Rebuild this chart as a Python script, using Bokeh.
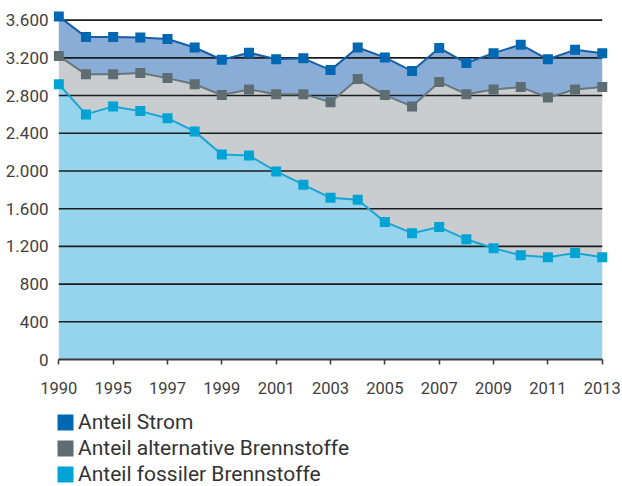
from bokeh.plotting import figure
from bokeh.layouts import column
from bokeh.models import Range1d, FixedTicker, Legend, LegendItem, ColumnDataSource
from bokeh.embed import file_html
from bokeh.resources import INLINE

# ---- data ----
years = ["1990", "1994", "1995", "1996", "1997", "1998", "1999", "2000", "2001", "2002",
         "2003", "2004", "2005", "2006", "2007", "2008", "2009", "2010", "2011", "2012", "2013"]
fossil = [2920, 2600, 2685, 2635, 2560, 2420, 2175, 2165, 1995, 1855,
          1715, 1695, 1460, 1340, 1405, 1275, 1180, 1105, 1085, 1130, 1085]
alternative = [300, 425, 340, 405, 425, 500, 630, 700, 820, 960,
               1015, 1280, 1345, 1345, 1540, 1540, 1685, 1785, 1695, 1735, 1805]
strom = [420, 395, 395, 375, 415, 390, 375, 390, 370, 380,
         340, 335, 400, 375, 360, 330, 385, 450, 405, 420, 360]
series_names = ["Anteil Strom", "Anteil alternative Brennstoffe", "Anteil fossiler Brennstoffe"]
xtick_labels = ["1990", "1995", "1997", "1999", "2001", "2003", "2005", "2007", "2009", "2011", "2013"]
yticks = [0, 400, 800, 1200, 1600, 2000, 2400, 2800, 3200, 3600]
ytick_labels = ["0", "400", "800", "1.200", "1.600", "2.000", "2.400", "2.800", "3.200", "3.600"]

# ---- derived ----
n = len(years)
x = list(range(n))
fos_top = list(fossil)
alt_top = [f + a for f, a in zip(fossil, alternative)]
str_top = [a + s for a, s in zip(alt_top, strom)]
src = ColumnDataSource(dict(x=x, zero=[0] * n, fos=fos_top, alt=alt_top, top=str_top))

C_STROM_AREA, C_STROM = "#8aadd7", "#0067b3"
C_ALT_AREA, C_ALT = "#c9cdd0", "#5e6d71"
C_FOS_AREA, C_FOS = "#95d4ec", "#00a4d4"
FONT = "Roboto"

p = figure(width=622, height=405, output_backend="svg", toolbar_location=None,
           x_range=Range1d(-0.195, 20.23), y_range=Range1d(0, 3713),
           min_border_left=53, min_border_right=14, min_border_top=9, min_border_bottom=46)
p.outline_line_color = None
p.xgrid.visible = False
p.ygrid.visible = False

# stacked areas
p.varea(x="x", y1="zero", y2="fos", source=src, fill_color=C_FOS_AREA)
p.varea(x="x", y1="fos", y2="alt", source=src, fill_color=C_ALT_AREA)
p.varea(x="x", y1="alt", y2="top", source=src, fill_color=C_STROM_AREA)

# horizontal grid lines over the areas, spanning the data range
gy = yticks[1:]
gsrc = ColumnDataSource(dict(x0=[x[0]] * len(gy), x1=[x[-1]] * len(gy), y=gy))
p.segment(x0="x0", y0="y", x1="x1", y1="y", source=gsrc, line_color="#1c1c1c", line_width=1.6)

# lines + markers
p.line("x", "fos", source=src, line_color="#1aa6d5", line_width=2)
p.scatter("x", "fos", source=src, marker="square", size=10, fill_color=C_FOS, line_color=None)
p.line("x", "alt", source=src, line_color="#687679", line_width=2)
p.scatter("x", "alt", source=src, marker="square", size=10, fill_color=C_ALT, line_color=None)
p.line("x", "top", source=src, line_color="#165fa8", line_width=2)
p.scatter("x", "top", source=src, marker="square", size=10, fill_color=C_STROM, line_color=None)

# axes
xt = [years.index(l) for l in xtick_labels]
p.xaxis.ticker = FixedTicker(ticks=xt)
p.xaxis.major_label_overrides = {t: l for t, l in zip(xt, xtick_labels)}
p.xaxis.bounds = (x[0], x[-1])
p.xaxis.axis_line_color = "#3a3a3a"
p.xaxis.axis_line_width = 2
p.xaxis.major_tick_line_color = "#3a3a3a"
p.xaxis.major_tick_line_width = 1.5
p.xaxis.major_tick_out = 5
p.xaxis.major_tick_in = 0
p.xaxis.minor_tick_line_color = None
p.xaxis.major_label_standoff = 17
p.xaxis.major_label_text_font = FONT
p.xaxis.major_label_text_font_size = "16.5px"
p.xaxis.major_label_text_color = "#404040"

p.yaxis.ticker = FixedTicker(ticks=yticks)
p.yaxis.major_label_overrides = {t: l for t, l in zip(yticks, ytick_labels)}
p.yaxis.axis_line_color = None
p.yaxis.major_tick_line_color = None
p.yaxis.minor_tick_line_color = None
p.yaxis.major_tick_out = 0
p.yaxis.major_label_standoff = 5
p.yaxis.major_label_text_font = FONT
p.yaxis.major_label_text_font_size = "17px"
p.yaxis.major_label_text_color = "#404040"

# legend strip below the chart (square swatches in the series' marker colours)
p2 = figure(width=622, height=81, output_backend="svg", toolbar_location=None,
            x_axis_location=None, y_axis_location=None, min_border=0)
p2.outline_line_color = None
p2.xgrid.visible = False
p2.ygrid.visible = False
sw = []
for col, c in zip(["top", "alt", "fos"], [C_STROM, C_ALT, C_FOS]):
    sw.append(p2.rect(x="x", y=col, width=0, height=0, source=src, fill_color=c, line_color=None))
legend = Legend(items=[LegendItem(label=name, renderers=[r], index=0) for name, r in zip(series_names, sw)],
                location=(2, 0), orientation="vertical",
                glyph_width=20, glyph_height=20, label_standoff=3, spacing=2,
                padding=0, margin=0, border_line_color=None, background_fill_alpha=0,
                label_text_font=FONT, label_text_font_size="21px", label_text_color="#333333")
p2.add_layout(legend)

layout = column(p, p2, spacing=0)
open("out.html", "w").write(file_html(layout, INLINE))
